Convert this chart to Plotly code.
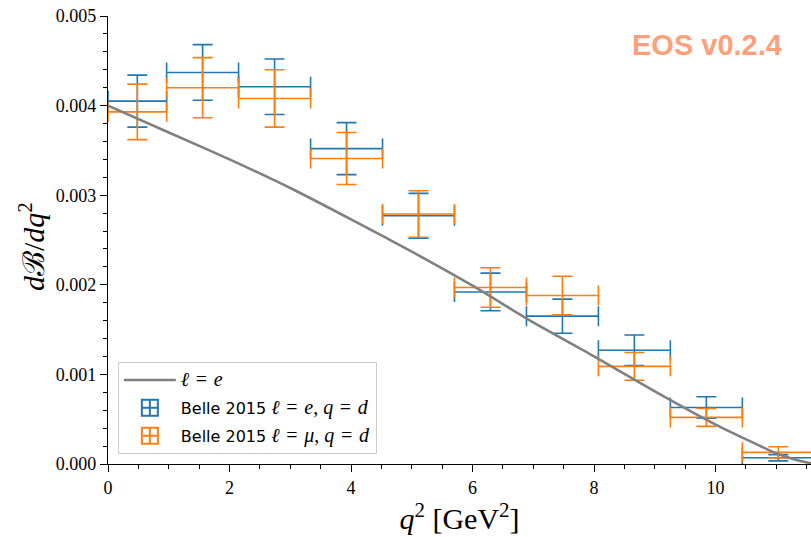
import plotly.graph_objects as go

# q^2 bin edges [GeV^2] of the Belle 2015 measurement
bin_edges = [0.0, 0.965, 2.149, 3.334, 4.518, 5.702, 6.887, 8.071, 9.255, 10.440, 11.624]

# Belle 2015, l = e, q = d : dB/dq^2 and uncertainties
belle_e_val = [0.00405, 0.00437, 0.00421, 0.00352, 0.00277, 0.00192, 0.00165, 0.00127, 0.00063, 0.00007]
belle_e_err = [0.00029, 0.00031, 0.00031, 0.00029, 0.00025, 0.00021, 0.00019, 0.00017, 0.00012, 0.000035]

# Belle 2015, l = mu, q = d
belle_mu_val = [0.00393, 0.00420, 0.00408, 0.00341, 0.00279, 0.00197, 0.00188, 0.00109, 0.00052, 0.00013]
belle_mu_err = [0.00031, 0.000335, 0.00032, 0.00029, 0.00026, 0.00022, 0.000215, 0.000155, 0.00010, 0.000063]

# Theory prediction for l = e
theory_q2 = [0.0, 1.0, 2.0, 3.0, 4.0, 5.0, 6.0, 7.0, 8.0, 9.0, 10.0, 11.0, 11.3, 11.62]
theory_val = [0.00400, 0.00370, 0.00340, 0.00308, 0.00273, 0.00237, 0.00199, 0.00158, 0.00120,
              0.00081, 0.00044, 0.00012, 0.00005, 0.0]

x_ticks = [0, 2, 4, 6, 8, 10]
y_ticks = [0.000, 0.001, 0.002, 0.003, 0.004, 0.005]

BLUE = "#1f77b4"
ORANGE = "#ff7f0e"
GRAY = "#808080"
SERIF = "Liberation Serif"
SP = "\u2004"  # slightly wider space around relations in the legend maths

centers = [(a + b) / 2 for a, b in zip(bin_edges[:-1], bin_edges[1:])]
halfw = [(b - a) / 2 for a, b in zip(bin_edges[:-1], bin_edges[1:])]

fig = go.Figure()


def data_trace(vals, errs, color):
    return go.Scatter(
        x=centers, y=vals, mode="markers",
        marker=dict(size=1, color="rgba(0,0,0,0)"),
        error_y=dict(type="data", array=errs, color=color, thickness=1.6, width=10),
        error_x=dict(type="data", array=halfw, color=color, thickness=1.6, width=10),
        showlegend=False, hoverinfo="skip",
    )


fig.add_trace(data_trace(belle_e_val, belle_e_err, BLUE))
fig.add_trace(data_trace(belle_mu_val, belle_mu_err, ORANGE))


def math(s):
    return f'<span style="font-family:{SERIF};font-size:20px">{s}</span>'


fig.add_trace(go.Scatter(
    x=theory_q2, y=theory_val, mode="lines",
    line=dict(color=GRAY, width=2.6, shape="spline", smoothing=0.6),
    name=math(f"<i>ℓ</i>{SP}={SP}<i>e</i>"),
    legendrank=1, legendgroup="g1",
))

math_e = math(f"<i>ℓ</i>{SP}={SP}<i>e</i>, <i>q</i>{SP}={SP}<i>d</i>")
math_mu = math(f"<i>ℓ</i>{SP}={SP}<i>μ</i>, <i>q</i>{SP}={SP}<i>d</i>")

for col, label, rank in [(BLUE, "Belle 2015 " + math_e, 2), (ORANGE, "Belle 2015 " + math_mu, 3)]:
    fig.add_trace(go.Scatter(
        x=[None], y=[None], mode="markers",
        marker=dict(symbol="square-cross-open", size=16, color=col, line=dict(width=2, color=col)),
        name=label, legendrank=rank, legendgroup=f"g{rank}",
    ))

axis_common = dict(
    showline=True, linecolor="black", linewidth=1.3, mirror=False,
    ticks="outside", ticklen=7, tickwidth=1.3, tickcolor="black",
    showgrid=False, zeroline=False,
    tickfont=dict(family=SERIF, size=18, color="black"),
)

fig.update_xaxes(
    range=[0, 11.57], tickvals=x_ticks, ticktext=[str(v) for v in x_ticks],
    minor=dict(dtick=0.5, tick0=0, ticks="outside", ticklen=4, tickwidth=1.1, tickcolor="black"),
    title=dict(text="<i>q</i><sup>2</sup> [GeV<sup>2</sup>]", font=dict(family=SERIF, size=30, color="black"),
               standoff=4),
    **axis_common,
)
fig.update_yaxes(
    range=[0, 0.005], tickvals=y_ticks, tickformat=".3f",
    minor=dict(dtick=0.0002, tick0=0, ticks="outside", ticklen=4, tickwidth=1.1, tickcolor="black"),
    **axis_common,
)

# y-axis label placed as a rotated annotation
fig.add_annotation(
    text="<i>d</i>ℬ/<i>dq</i><sup>2</sup>", xref="paper", yref="paper",
    x=-0.109, y=0.485, xanchor="center", yanchor="middle", textangle=-90, showarrow=False,
    font=dict(family=SERIF, size=30, color="black"),
)

fig.add_annotation(
    text="<b>EOS v0.2.4</b>", xref="paper", yref="paper", x=0.962, y=0.935,
    xanchor="right", yanchor="middle", showarrow=False,
    font=dict(family="Liberation Sans", size=29, color="#ffa07a"),
)

fig.update_layout(
    width=811, height=537,
    margin=dict(l=108, r=0, t=16, b=73),
    paper_bgcolor="white", plot_bgcolor="white",
    legend=dict(
        x=0.014, y=0.022, xanchor="left", yanchor="bottom",
        bgcolor="rgba(255,255,255,0.8)", bordercolor="#cccccc", borderwidth=1,
        font=dict(family="DejaVu Sans", size=16, color="black"),
        itemwidth=52, traceorder="grouped", tracegroupgap=4,
    ),
)

fig.write_html("out.html")
